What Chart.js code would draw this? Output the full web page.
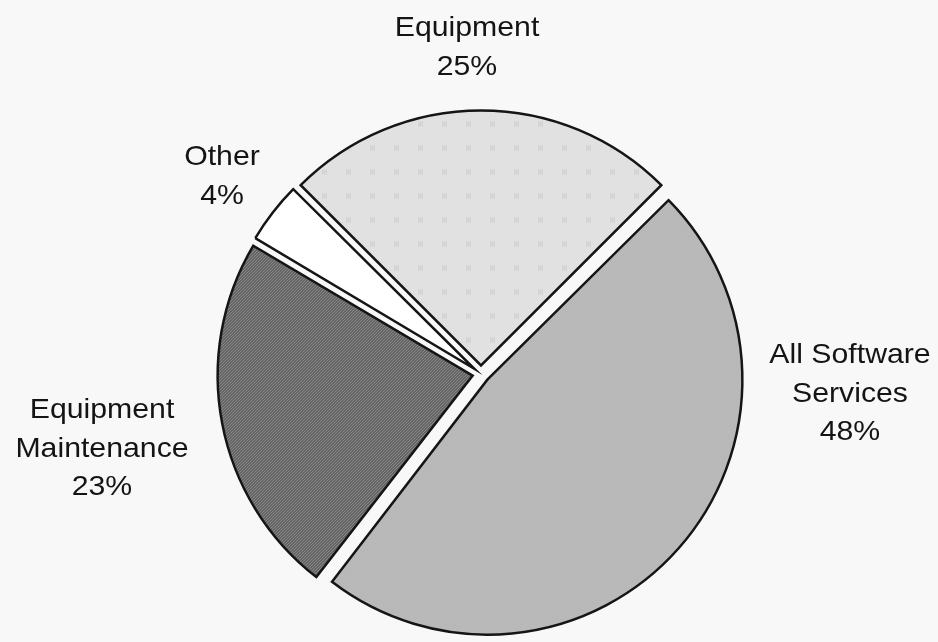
<!DOCTYPE html>
<html>
<head>
<meta charset="utf-8">
<title>Spending by category</title>
<script src="https://cdn.jsdelivr.net/npm/chart.js@4.4.1/dist/chart.umd.min.js"></script>
<style>
  html, body { margin: 0; padding: 0; background: #f8f8f9; }
  #wrap { width: 938px; height: 642px; }
</style>
</head>
<body>
<div id="wrap"><canvas id="pie"></canvas></div>
<script>
// slice names (one entry per text line) and their shares in percent
const categories = [["Equipment"], ["All Software", "Services"], ["Equipment", "Maintenance"], ["Other"]];
const shares = [25, 48, 23, 4];

// where each label block starts: centre x, first baseline
const labelSpots = [[467, 36], [850, 363], [102, 418], [222, 165]];

const PIE_RADIUS = 255;
const SLICE_PUSH = 34; // chart.js divides this by 4 -> ~8.5px

// little tiles for the screen-tone fills
function tile(size, paint) {
  const c = document.createElement("canvas");
  c.width = size;
  c.height = size;
  const g = c.getContext("2d");
  paint(g, size);
  return g.createPattern(c, "repeat");
}

const dotsLight = tile(24, (g, s) => {
  g.fillStyle = "#e1e1e1";
  g.fillRect(0, 0, s, s);
  g.fillStyle = "#c9c9c9";
  for (let y = 0; y < 5; y++) {
    for (let x = 0; x < 5; x++) {
      if ((x + y) % 2 === 0) g.fillRect(10 + x, 10 + y, 1, 1);
    }
  }
});

const checkMid = tile(2, (g) => {
  g.fillStyle = "#d4d4d4";
  g.fillRect(0, 0, 2, 2);
  g.fillStyle = "#9e9e9e";
  g.fillRect(0, 0, 1, 1);
  g.fillRect(1, 1, 1, 1);
});

const hatchDark = tile(3, (g) => {
  g.fillStyle = "#949494";
  g.fillRect(0, 0, 3, 3);
  g.fillStyle = "#2a2a2a";
  for (let i = 0; i < 3; i++) g.fillRect(2 - i, i, 1, 1);
});

// keep every slice on the same circle even when it is pushed out
const evenRadius = {
  id: "evenRadius",
  beforeDatasetsDraw(chart) {
    chart.getDatasetMeta(0).data.forEach((arc) => {
      const push = (arc.options.offset || 0) / 4;
      const fix = 1 - Math.sin(Math.min(Math.PI, arc.circumference));
      arc.outerRadius = PIE_RADIUS - push * fix;
    });
  }
};

// name + percentage text next to the slices
const sliceLabels = {
  id: "sliceLabels",
  afterDraw(chart) {
    const ctx = chart.ctx;
    ctx.save();
    ctx.fillStyle = "#141414";
    ctx.font = "28px 'Liberation Sans', Arial, sans-serif";
    ctx.textAlign = "center";
    ctx.textBaseline = "alphabetic";
    categories.forEach((lines, i) => {
      const [x, y0] = labelSpots[i];
      const rows = lines.concat([shares[i] + "%"]);
      rows.forEach((row, k) => {
        ctx.save();
        ctx.translate(x, y0 + k * 38.5);
        ctx.scale(1.08, 1);
        ctx.fillText(row, 0, 0);
        ctx.restore();
      });
    });
    ctx.restore();
  }
};

new Chart(document.getElementById("pie"), {
  type: "pie",
  data: {
    labels: categories.map((l) => l.join(" ")),
    datasets: [
      {
        data: shares,
        backgroundColor: [dotsLight, checkMid, hatchDark, "#ffffff"],
        borderColor: "#151515",
        borderWidth: 2.5,
        borderJoinStyle: "miter",
        offset: SLICE_PUSH
      }
    ]
  },
  options: {
    responsive: true,
    maintainAspectRatio: false,
    animation: false,
    rotation: -45,
    radius: PIE_RADIUS,
    layout: { padding: { left: 24, top: 106, right: 0, bottom: 0 } },
    plugins: {
      legend: { display: false },
      tooltip: { enabled: false }
    }
  },
  plugins: [evenRadius, sliceLabels]
});
</script>
</body>
</html>
